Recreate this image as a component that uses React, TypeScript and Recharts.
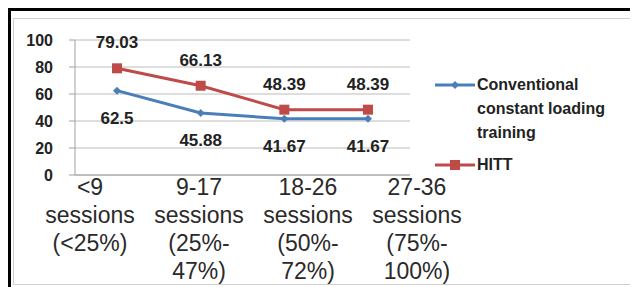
import { LineChart, Line, XAxis, YAxis, CartesianGrid, Legend, LabelList } from 'recharts';

const CATEGORIES = [
  '<9 sessions (<25%)',
  '9-17 sessions (25%-47%)',
  '18-26 sessions (50%-72%)',
  '27-36 sessions (75%-100%)',
];
const TICK_LINES = [
  ['<9', 'sessions', '(<25%)'],
  ['9-17', 'sessions', '(25%-', '47%)'],
  ['18-26', 'sessions', '(50%-', '72%)'],
  ['27-36', 'sessions', '(75%-', '100%)'],
];
const CONVENTIONAL = [62.5, 45.88, 41.67, 41.67];
const HITT = [79.03, 66.13, 48.39, 48.39];
const Y_TICKS = [0, 20, 40, 60, 80, 100];

const BLUE = '#4a7ebb';
const RED = '#be4b48';
const FONT = '"Liberation Sans", Arial, sans-serif';

const chartData = CATEGORIES.map((c, i) => ({
  category: c,
  conventional: CONVENTIONAL[i],
  hitt: HITT[i],
}));

function Diamond({ cx, cy, size = 5, color }: any) {
  if (cx == null || cy == null) return null;
  return (
    <path
      d={`M${cx},${cy - size} L${cx + size},${cy} L${cx},${cy + size} L${cx - size},${cy} Z`}
      fill={color}
    />
  );
}

function Square({ cx, cy, size = 5, color }: any) {
  if (cx == null || cy == null) return null;
  return <rect x={cx - size} y={cy - size} width={size * 2} height={size * 2} fill={color} />;
}

function CategoryTick({ x, y, index }: any) {
  const lines = TICK_LINES[index] ?? [];
  return (
    <text x={x} y={y} textAnchor="middle" fill="#2a2a2a" fontSize={23} fontFamily={FONT}>
      {lines.map((l, i) => (
        <tspan key={i} x={x} dy={i === 0 ? 16 : 28}>
          {l}
        </tspan>
      ))}
    </text>
  );
}

function LegendContent() {
  const items = [
    { name: 'Conventional constant loading training', color: BLUE, shape: 'diamond' },
    { name: 'HITT', color: RED, shape: 'square' },
  ];
  return (
    <div style={{ fontFamily: FONT, fontWeight: 'bold', fontSize: 16, color: '#222' }}>
      {items.map((it) => (
        <div key={it.name} style={{ display: 'flex', alignItems: 'flex-start', marginBottom: 8 }}>
          <svg width={42} height={24} style={{ flex: 'none' }}>
            <line x1={0} y1={12} x2={40} y2={12} stroke={it.color} strokeWidth={3} />
            {it.shape === 'diamond' ? (
              <Diamond cx={20} cy={12} size={4} color={it.color} />
            ) : (
              <Square cx={20} cy={12} size={5} color={it.color} />
            )}
          </svg>
          <span style={{ width: 145, lineHeight: '24px' }}>{it.name}</span>
        </div>
      ))}
    </div>
  );
}

export default function App() {
  return (
    <div
      style={{
        position: 'relative',
        width: 630,
        height: 279,
        boxSizing: 'border-box',
        borderLeft: '3px solid #000',
        borderTop: '3px solid #000',
        background: '#fff',
      }}
    >
      <div
        style={{
          position: 'absolute',
          left: 2,
          top: 7,
          width: 622,
          height: 267,
          boxSizing: 'border-box',
          border: '1px solid #cfcfcf',
        }}
      >
        <LineChart
          width={620}
          height={265}
          data={chartData}
          style={{ overflow: 'visible' }}
          margin={{ top: 21, right: 24, bottom: 0, left: 0 }}
        >
          <CartesianGrid vertical={false} stroke="#bcbcbc" />
          <XAxis
            dataKey="category"
            height={4}
            tick={false}
            tickLine={false}
            axisLine={{ stroke: '#a0a0a0' }}
            padding={{ left: 42, right: 42 }}
          />
          <XAxis
            xAxisId="lbl"
            dataKey="category"
            height={105}
            axisLine={false}
            tickLine={false}
            tickSize={0}
            tickMargin={0}
            interval={0}
            padding={{ left: 15, right: -7 }}
            tick={<CategoryTick />}
          />
          <YAxis
            width={61}
            domain={[0, 100]}
            ticks={Y_TICKS}
            interval={0}
            axisLine={{ stroke: '#a0a0a0' }}
            tickLine={{ stroke: '#a0a0a0' }}
            tickSize={6}
            tickMargin={16}
            tick={{ fontSize: 16, fontWeight: 'bold', fill: '#222', fontFamily: FONT }}
          />
          <Legend
            layout="vertical"
            align="right"
            verticalAlign="middle"
            content={<LegendContent />}
            wrapperStyle={{ left: 421, top: 54, width: 200 }}
          />
          <Line
            dataKey="conventional"
            name="Conventional constant loading training"
            stroke={BLUE}
            strokeWidth={3}
            dot={<Diamond size={4} color={BLUE} />}
            activeDot={false}
            isAnimationActive={false}
          >
            <LabelList
              dataKey="conventional"
              position="bottom"
              offset={21}
              style={{ fontSize: 17, fontWeight: 'bold', fill: '#222', fontFamily: FONT }}
            />
          </Line>
          <Line
            dataKey="hitt"
            name="HITT"
            stroke={RED}
            strokeWidth={3}
            dot={<Square size={5} color={RED} />}
            activeDot={false}
            isAnimationActive={false}
          >
            <LabelList
              dataKey="hitt"
              position="top"
              offset={20}
              style={{ fontSize: 17, fontWeight: 'bold', fill: '#222', fontFamily: FONT }}
            />
          </Line>
        </LineChart>
      </div>
    </div>
  );
}
